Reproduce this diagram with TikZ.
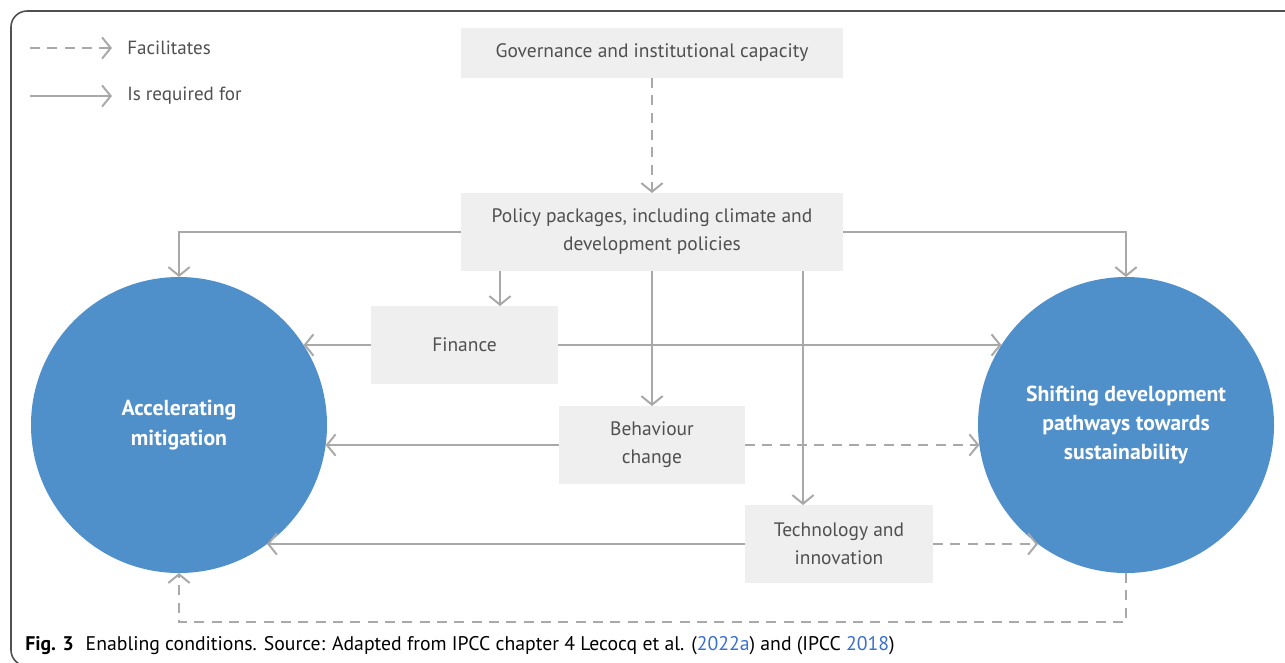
\documentclass[tikz,border=0pt]{standalone}
\usepackage{fontspec}
\setmainfont{PT Sans}
\usetikzlibrary{arrows.meta,calc}
\definecolor{circblue}{HTML}{4F8FCA}
\definecolor{boxfill}{HTML}{EFEFEF}
\definecolor{arrgray}{HTML}{A9A9A9}
\definecolor{txtgray}{HTML}{505050}
\definecolor{framegray}{HTML}{505050}
\definecolor{linkblue}{HTML}{3A6FD0}
\tikzset{
  boxnode/.style={fill=boxfill, draw=none, inner sep=0pt, outer sep=0pt, align=center,
    text=txtgray, font=\fontsize{14.6}{21}\selectfont},
  circnode/.style={circle, fill=circblue, draw=none, minimum size=222pt, inner sep=0pt, outer sep=0pt,
    align=center, text=white, font=\fontsize{16.3}{22}\selectfont\bfseries},
  req/.style={draw=arrgray, line width=1.5pt, -{Straight Barb[length=6.5pt,width=16pt,line width=1.5pt]}},
  fac/.style={req, dash pattern=on 7.5pt off 5.5pt},
  legtext/.style={anchor=west, text=txtgray, inner sep=0pt, font=\fontsize{14.3}{18}\selectfont},
  % horizontal connector from a point to the border of a circle of radius 111pt
  toleft/.style={},
}
\begin{document}
\begin{tikzpicture}[x=0.75pt,y=-0.75pt]
\useasboundingbox (0,0) rectangle (1285,662);
\draw[framegray, line width=1.2pt, rounded corners=12pt] (11,666) rectangle (1320,11);
% legend
\coordinate (f1) at (30,48); \coordinate (f2) at (112,48);
\coordinate (r1) at (30,96); \coordinate (r2) at (112,96);
\draw[fac] (f1) -- (f2);
\draw[req] (r1) -- (r2);
\node[legtext] (lf) at (127,48) {Facilitates};
\node[legtext] (lr) at (127,96) {Is required for};
% boxes
\node[boxnode, minimum width=286.5pt, minimum height=37.5pt] (gov) at (652,53) {Governance and institutional capacity};
\node[boxnode, minimum width=286.5pt, minimum height=58.5pt] (pol) at (652,232) {Policy packages, including climate and\\development policies};
\node[boxnode, minimum width=140.25pt, minimum height=58.5pt] (fin) at (464.5,345) {Finance};
\node[boxnode, minimum width=139.5pt, minimum height=58.5pt] (beh) at (652,445) {Behaviour\\change};
\node[boxnode, minimum width=141pt, minimum height=58.5pt] (tech) at (839,544) {Technology and\\innovation};
% circles
\node[circnode] (acc) at (179,425) {Accelerating\\mitigation};
\node[circnode] (shf) at (1126,425) {Shifting development\\pathways towards\\sustainability};
% connectors
\draw[fac] (gov.south) -- (pol.north);
\draw[req] (pol.west) -| (acc.north);
\draw[req] (pol.east) -| (shf.north);
\draw[req] (500,0 |- pol.south) -- (500,0 |- fin.north);
\draw[req] (pol.south) -- (beh.north);
\draw[req] (803,0 |- pol.south) -- (803,0 |- tech.north);
% horizontal connectors ending on the circle borders (radius 111pt)
\draw[req] let \p1=(fin.west), \p2=(acc.center), \n1={sqrt(111*111-((\y1-\y2)/1pt)^2)*1pt} in (\p1) -- (\x2+\n1,\y1);
\draw[req] let \p1=(fin.east), \p2=(shf.center), \n1={sqrt(111*111-((\y1-\y2)/1pt)^2)*1pt} in (\p1) -- (\x2-\n1,\y1);
\draw[req] let \p1=(beh.west), \p2=(acc.center), \n1={sqrt(111*111-((\y1-\y2)/1pt)^2)*1pt} in (\p1) -- (\x2+\n1,\y1);
\draw[fac] let \p1=(beh.east), \p2=(shf.center), \n1={sqrt(111*111-((\y1-\y2)/1pt)^2)*1pt} in (\p1) -- (\x2-\n1,\y1);
\draw[req] let \p1=(tech.west), \p2=(acc.center), \n1={sqrt(111*111-((\y1-\y2)/1pt)^2)*1pt} in (\p1) -- (\x2+\n1,\y1);
\draw[fac] let \p1=(tech.east), \p2=(shf.center), \n1={sqrt(111*111-((\y1-\y2)/1pt)^2)*1pt} in (\p1) -- (\x2-\n1,\y1);
\draw[fac] (shf.south) -- ++(0,49) -| (acc.south);
% caption
\node[anchor=west, inner sep=0pt, text=black, font=\fontsize{14.8}{17}\selectfont] (cap) at (25,646)
  {\textbf{Fig. 3}\hspace{0.6em}Enabling conditions. Source: Adapted from IPCC chapter 4 Lecocq et al. (\textcolor{linkblue}{2022a}) and (IPCC \textcolor{linkblue}{2018})};
\end{tikzpicture}
\end{document}
